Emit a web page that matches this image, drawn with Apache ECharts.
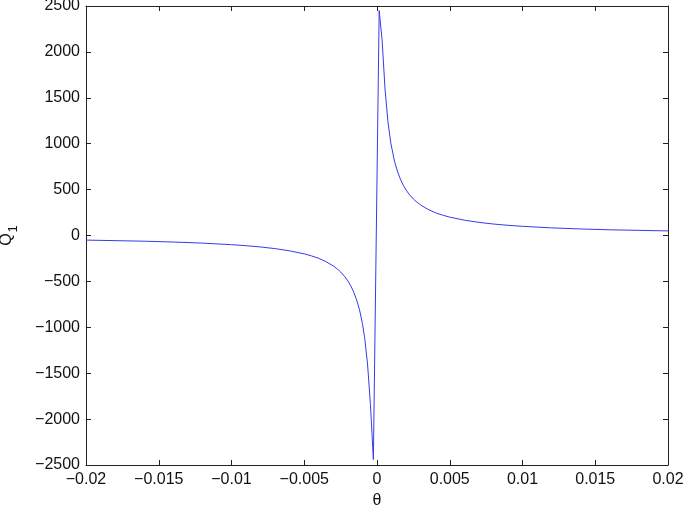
<!DOCTYPE html>
<html>
<head>
<meta charset="utf-8">
<script src="https://cdn.jsdelivr.net/npm/echarts@6/dist/echarts.min.js"></script>
<style>
  html, body { margin: 0; padding: 0; background: #fff; }
  #chart { width: 685px; height: 505px; }
</style>
</head>
<body>
<div id="chart"></div>
<script>
// theta samples and Q1 values
var theta = [
  -0.02, -0.018, -0.016, -0.014, -0.012, -0.01, -0.009, -0.008, -0.007, -0.006,
  -0.005, -0.0045, -0.004, -0.0035, -0.003, -0.0027, -0.0025, -0.0022, -0.002, -0.0018,
  -0.0016, -0.0014, -0.0012, -0.001, -0.00085, -0.00065, -0.00045, -0.00025,
  0.00015, 0.00035, 0.00055, 0.00075, 0.00095, 0.0012, 0.0014, 0.0016, 0.0018,
  0.002, 0.0022, 0.0025, 0.0027, 0.003, 0.0035, 0.004, 0.0045, 0.005,
  0.006, 0.007, 0.008, 0.009, 0.01, 0.012, 0.014, 0.016, 0.018, 0.02
];
var q1 = [
  -50, -56, -62, -71, -83, -100, -111, -125, -143, -167,
  -200, -222, -249, -285, -332, -369, -397, -451, -495, -549,
  -617, -702, -810, -960, -1112, -1400, -1843, -2440,
  2450, 2133, 1598, 1241, 1006, 810, 702, 617, 549,
  495, 451, 397, 369, 332, 285, 249, 222, 200,
  167, 143, 125, 111, 100, 83, 71, 62, 56, 50
];
var xTicks = [-0.02, -0.015, -0.01, -0.005, 0, 0.005, 0.01, 0.015, 0.02];
var yTicks = [-2500, -2000, -1500, -1000, -500, 0, 500, 1000, 1500, 2000, 2500];

var points = theta.map(function (t, i) { return [t, q1[i]]; });

function fmt(v) {
  var s = String(parseFloat(Number(v).toFixed(4)));
  return s.replace('-', '\u2212');
}

var font = { fontFamily: 'Liberation Sans, Arial, sans-serif', fontSize: 16, color: '#111' };
var lineStyle = { color: '#222', width: 1 };

var myChart = echarts.init(document.getElementById('chart'));
var option = {
  animation: false,
  backgroundColor: '#fff',
  grid: { left: 86, right: 17, top: 6, bottom: 40, outerBoundsMode: 'none' },
  xAxis: [{
    type: 'value',
    min: xTicks[0], max: xTicks[xTicks.length - 1], interval: 0.005,
    name: '\u03b8', nameLocation: 'middle', nameGap: 28,
    nameTextStyle: font,
    axisLine: { onZero: false, lineStyle: lineStyle },
    axisTick: { inside: true, length: 5, lineStyle: lineStyle },
    axisLabel: Object.assign({ margin: 7, formatter: fmt }, font),
    splitLine: { show: false }
  }, {
    type: 'value', position: 'top',
    min: xTicks[0], max: xTicks[xTicks.length - 1], interval: 0.005,
    axisLine: { onZero: false, lineStyle: lineStyle },
    axisTick: { inside: true, length: 5, lineStyle: lineStyle },
    axisLabel: { show: false },
    splitLine: { show: false }
  }],
  yAxis: [{
    type: 'value',
    min: yTicks[0], max: yTicks[yTicks.length - 1], interval: 500,
    name: 'Q{s|1}', nameLocation: 'middle', nameGap: 66, nameRotate: 90,
    nameTextStyle: Object.assign({
      rich: { s: { fontFamily: font.fontFamily, fontSize: 13, color: '#111', padding: [14, 0, 0, 1] } }
    }, font),
    axisLine: { onZero: false, lineStyle: lineStyle },
    axisTick: { inside: true, length: 5, lineStyle: lineStyle },
    axisLabel: Object.assign({ margin: 6, formatter: fmt }, font),
    splitLine: { show: false }
  }, {
    type: 'value', position: 'right',
    min: yTicks[0], max: yTicks[yTicks.length - 1], interval: 500,
    axisLine: { onZero: false, lineStyle: lineStyle },
    axisTick: { inside: true, length: 5, lineStyle: lineStyle },
    axisLabel: { show: false },
    splitLine: { show: false }
  }],
  series: [{
    type: 'line',
    data: points,
    showSymbol: false,
    lineStyle: { color: '#3a3ae8', width: 1 }
  }]
};
myChart.setOption(option);
</script>
</body>
</html>
